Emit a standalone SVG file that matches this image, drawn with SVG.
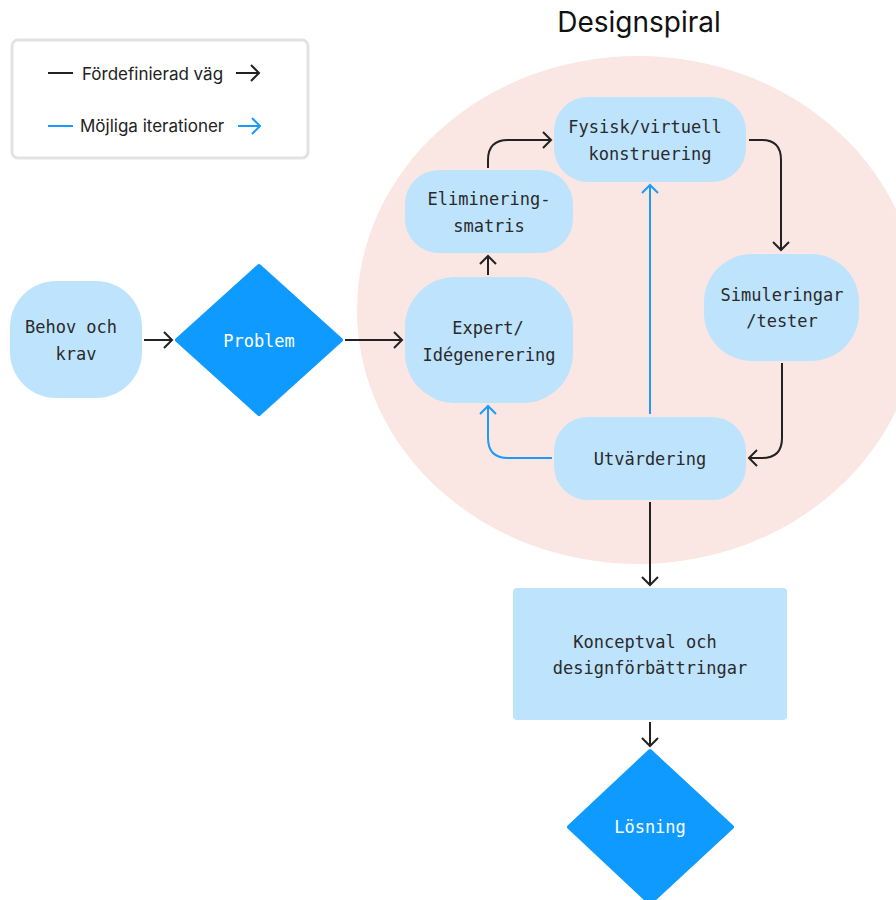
<svg xmlns="http://www.w3.org/2000/svg" width="896" height="900" viewBox="0 0 896 900">
<style>
.node{fill:#BEE3FD}
.dia{fill:#0F9AFF;stroke:#0F9AFF;stroke-width:4;stroke-linejoin:round}
.t{font-family:"DejaVu Sans Mono","Liberation Mono",monospace;font-size:17px;fill:#2a2a2a;text-anchor:middle}
.tw{font-family:"DejaVu Sans Mono","Liberation Mono",monospace;font-size:17px;fill:#ffffff;text-anchor:middle}
.lg{font-family:Inter,"Liberation Sans",sans-serif;font-size:17px;fill:#222}
.k{fill:none;stroke:#222;stroke-width:2}
.b{fill:none;stroke:#1A9BFF;stroke-width:2}
</style>
<defs>
<marker id="ak" viewBox="-10 -10 12 20" markerWidth="12" markerHeight="20" refX="0" refY="0" orient="auto" markerUnits="userSpaceOnUse">
<path d="M-8,-8 L0,0 L-8,8" fill="none" stroke="#222" stroke-width="2"/>
</marker>
<marker id="ab" viewBox="-10 -10 12 20" markerWidth="12" markerHeight="20" refX="0" refY="0" orient="auto" markerUnits="userSpaceOnUse">
<path d="M-8,-8 L0,0 L-8,8" fill="none" stroke="#1A9BFF" stroke-width="2"/>
</marker>
</defs>
<rect width="896" height="900" fill="#ffffff"/>
<ellipse id="spiral" cx="638" cy="310" rx="281" ry="254" fill="#FAE6E2"/>
<text x="639" y="32" font-family="Inter,'Liberation Sans',sans-serif" font-size="28" fill="#111" text-anchor="middle">Designspiral</text>

<g id="legend">
<rect x="12" y="40" width="296" height="118" rx="6" fill="#fff" stroke="#e2e2e2" stroke-width="3"/>
<line x1="48" y1="73" x2="73" y2="73" class="k"/>
<text x="82" y="80" class="lg">Fördefinierad väg</text>
<line x1="236" y1="73" x2="259" y2="73" class="k" marker-end="url(#ak)"/>
<line x1="48" y1="126" x2="73" y2="126" class="b"/>
<text x="80" y="132" class="lg">Möjliga iterationer</text>
<line x1="238" y1="126" x2="260" y2="126" class="b" marker-end="url(#ab)"/>
</g>

<g id="connectors">
<line x1="144" y1="340" x2="172" y2="340" class="k" marker-end="url(#ak)"/>
<line x1="345" y1="340" x2="402" y2="340" class="k" marker-end="url(#ak)"/>
<line x1="488" y1="275" x2="488" y2="256" class="k" marker-end="url(#ak)"/>
<path d="M488,168 V160 Q488,140 508,140 H551" class="k" marker-end="url(#ak)"/>
<path d="M749,140 H762 Q781,140 781,160 V250" class="k" marker-end="url(#ak)"/>
<path d="M782,363 V438 Q782,458 762,458 H749" class="k" marker-end="url(#ak)"/>
<path d="M552,458 H508 Q488,458 488,438 V406" class="b" marker-end="url(#ab)"/>
<line x1="650" y1="414" x2="650" y2="185" class="b" marker-end="url(#ab)"/>
<line x1="650" y1="502" x2="650" y2="585" class="k" marker-end="url(#ak)"/>
<line x1="650" y1="722" x2="650" y2="746" class="k" marker-end="url(#ak)"/>
</g>

<g id="behov">
<rect x="10" y="281" width="132" height="117" rx="46" class="node"/>
<text x="71" y="333" class="t">Behov och</text>
<text x="76" y="360" class="t">krav</text>
</g>
<g id="problem">
<polygon points="259,266 341,340 259,414 177,340" class="dia"/>
<text x="259" y="347" class="tw">Problem</text>
</g>
<g id="expert">
<rect x="405" y="277" width="168" height="126" rx="50" class="node"/>
<text x="488" y="334" class="t">Expert/</text>
<text x="489" y="361" class="t">Idégenerering</text>
</g>
<g id="eliminering">
<rect x="405" y="170" width="168" height="83" rx="34" class="node"/>
<text x="489" y="205" class="t">Eliminering-</text>
<text x="489" y="232" class="t">smatris</text>
</g>
<g id="fysisk">
<rect x="554" y="97" width="192" height="85" rx="34" class="node"/>
<text x="645" y="133" class="t">Fysisk/virtuell</text>
<text x="650" y="160" class="t">konstruering</text>
</g>
<g id="simuleringar">
<rect x="704" y="254" width="155" height="107" rx="48" class="node"/>
<text x="782" y="301" class="t">Simuleringar</text>
<text x="782" y="327" class="t">/tester</text>
</g>
<g id="utvardering">
<rect x="554" y="417" width="192" height="83" rx="34" class="node"/>
<text x="650" y="465" class="t">Utvärdering</text>
</g>
<g id="konceptval">
<rect x="513" y="588" width="274" height="132" rx="4" class="node"/>
<text x="645" y="648" class="t">Konceptval och</text>
<text x="650" y="674" class="t">designförbättringar</text>
</g>
<g id="losning">
<polygon points="650,751 732,827 650,903 569,827" class="dia"/>
<text x="650" y="833" class="tw">Lösning</text>
</g>
</svg>
